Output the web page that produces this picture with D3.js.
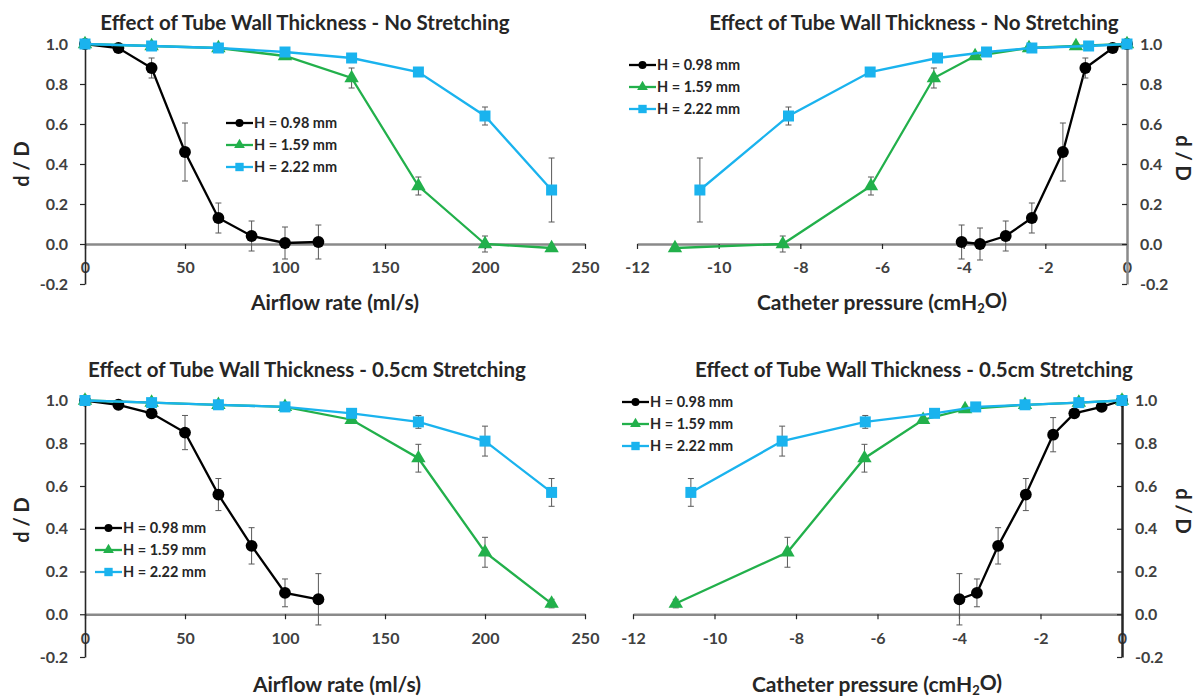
<!DOCTYPE html>
<html>
<head>
<meta charset="utf-8">
<script src="https://cdn.jsdelivr.net/npm/d3@7"></script>
<style>
  body { margin: 0; background: #fff; }
  svg text { font-family: Lato, "Open Sans", sans-serif; font-weight: 700; }
</style>
</head>
<body>
<svg id="chart" width="1200" height="698"></svg>
<script>
// ---- data ----
const seriesNames = ["H = 0.98 mm", "H = 1.59 mm", "H = 2.22 mm"];
const seriesColors = ["#000000", "#22b04b", "#1ab3ee"];
const seriesShapes = [d3.symbolCircle, d3.symbolTriangle, d3.symbolSquare];

const yTicks = [-0.2, 0, 0.2, 0.4, 0.6, 0.8, 1.0];
const airflowTicks = [0, 50, 100, 150, 200, 250];
const pressureTicks = [-12, -10, -8, -6, -4, -2, 0];

// airflow rate (ml/s)
const airflowBlackX = [0, 16.7, 33.3, 50, 66.7, 83.3, 100, 116.7];
const airflowX = [0, 33.3, 66.7, 100, 133.3, 166.7, 200, 233.3];

// no stretching, vs airflow
const noStrFlowBlackY = [1.0, 0.98, 0.88, 0.46, 0.13, 0.04, 0.005, 0.01];
const noStrFlowBlackErr = [0, 0.01, 0.05, 0.145, 0.075, 0.075, 0.08, 0.085];
const noStrFlowGreenY = [1.0, 0.99, 0.98, 0.94, 0.83, 0.29, 0.0, -0.02];
const noStrFlowGreenErr = [0, 0, 0.005, 0.01, 0.05, 0.045, 0.04, 0.01];
const noStrFlowBlueY = [1.0, 0.99, 0.98, 0.96, 0.93, 0.86, 0.64, 0.27];
const noStrFlowBlueErr = [0, 0, 0, 0.01, 0.01, 0.02, 0.045, 0.16];

// no stretching, vs catheter pressure
const noStrPresBlackX = [-4.05, -3.6, -2.97, -2.33, -1.57, -1.02, -0.35, 0];
const noStrPresBlackY = [0.01, 0.0, 0.04, 0.13, 0.46, 0.88, 0.98, 1.0];
const noStrPresBlackErr = [0.085, 0.08, 0.075, 0.075, 0.145, 0.05, 0.01, 0];
const noStrPresGreenX = [-11.07, -8.43, -6.27, -4.73, -3.72, -2.4, -1.25, 0];
const noStrPresGreenY = [-0.02, 0.0, 0.29, 0.83, 0.94, 0.98, 0.99, 1.0];
const noStrPresGreenErr = [0.01, 0.04, 0.045, 0.05, 0.01, 0.005, 0, 0];
const noStrPresBlueX = [-10.46, -8.29, -6.29, -4.64, -3.44, -2.33, -0.94, 0];
const noStrPresBlueY = [0.27, 0.64, 0.86, 0.93, 0.96, 0.98, 0.99, 1.0];
const noStrPresBlueErr = [0.16, 0.045, 0.02, 0.01, 0.01, 0, 0, 0];

// 0.5cm stretching, vs airflow
const strFlowBlackY = [1.0, 0.98, 0.94, 0.85, 0.56, 0.32, 0.10, 0.07];
const strFlowBlackErr = [0, 0.01, 0.02, 0.08, 0.075, 0.085, 0.065, 0.12];
const strFlowGreenY = [1.0, 0.99, 0.98, 0.97, 0.91, 0.73, 0.29, 0.05];
const strFlowGreenErr = [0, 0, 0, 0.01, 0.01, 0.065, 0.07, 0.02];
const strFlowBlueY = [1.0, 0.99, 0.98, 0.97, 0.94, 0.90, 0.81, 0.57];
const strFlowBlueErr = [0, 0, 0, 0.01, 0.01, 0.03, 0.07, 0.065];

// 0.5cm stretching, vs catheter pressure
const strPresBlackX = [-3.99, -3.56, -3.04, -2.36, -1.69, -1.17, -0.5, 0];
const strPresBlackY = [0.07, 0.10, 0.32, 0.56, 0.84, 0.94, 0.97, 1.0];
const strPresBlackErr = [0.12, 0.065, 0.085, 0.075, 0.08, 0.02, 0.01, 0];
const strPresGreenX = [-10.95, -8.21, -6.32, -4.88, -3.85, -2.38, -1.06, 0];
const strPresGreenY = [0.05, 0.29, 0.73, 0.91, 0.96, 0.98, 0.99, 1.0];
const strPresGreenErr = [0.02, 0.07, 0.065, 0.01, 0.01, 0, 0, 0];
const strPresBlueX = [-10.58, -8.34, -6.3, -4.6, -3.59, -2.38, -1.06, 0];
const strPresBlueY = [0.57, 0.81, 0.90, 0.94, 0.97, 0.98, 0.99, 1.0];
const strPresBlueErr = [0.065, 0.07, 0.03, 0.01, 0.01, 0, 0, 0];

const zip = (xs, ys, es) => xs.map((x, i) => ({ x: x, y: ys[i], e: es[i] }));

const svg = d3.select("#chart");

function drawPanel(p) {
    const g = svg.append("g");
    const x = d3.scaleLinear().domain(p.xDomain).range(p.xRange);
    const y = d3.scaleLinear().domain([-0.2, 1.0]).range(p.yRange);

    // title
    g.append("text")
        .attr("x", p.titleX).attr("y", p.titleY)
        .attr("text-anchor", "middle")
        .style("font-size", "20.5px").style("fill", "#262626")
        .text(p.title);

    // x axis, sitting at y = 0
    const xAxis = g.append("g")
        .attr("transform", `translate(0,${y(0)})`)
        .call(d3.axisBottom(x).tickValues(p.xTicks).tickSize(5).tickSizeOuter(0)
            .tickPadding(13).tickFormat(d => String(d)));
    xAxis.select(".domain").attr("stroke", "#8a8a8a").attr("stroke-width", 2.5);
    xAxis.selectAll(".tick line").attr("stroke", "#262626").attr("stroke-width", 1.2);
    xAxis.selectAll(".tick text").style("font-size", "16px").style("fill", "#404040")
        .style("font-family", "Lato, sans-serif").style("font-weight", 700);

    // y axis
    const right = p.yAxisSide === "right";
    const yAxisGen = (right ? d3.axisRight(y).tickSize(-5).tickPadding(13)
                            : d3.axisLeft(y).tickSize(5).tickPadding(12))
        .tickValues(yTicks).tickSizeOuter(0).tickFormat(d => d.toFixed(1));
    const yAxis = g.append("g")
        .attr("transform", `translate(${right ? p.xRange[1] : p.xRange[0]},0)`)
        .call(yAxisGen);
    yAxis.select(".domain").attr("stroke", p.yAxisColor).attr("stroke-width", right ? 2.5 : 1.6);
    yAxis.selectAll(".tick line").attr("stroke", "#262626").attr("stroke-width", 1.2);
    yAxis.selectAll(".tick text").style("font-size", "16px").style("fill", "#404040")
        .style("font-family", "Lato, sans-serif").style("font-weight", 700);

    // axis titles
    const xl = g.append("text")
        .attr("x", p.xLabelX).attr("y", p.xLabelY)
        .attr("text-anchor", "middle")
        .style("font-size", "21px").style("fill", "#262626");
    xl.append("tspan").text(p.xLabel);
    if (p.xLabelSub) {
        xl.append("tspan").attr("dy", "0.25em").style("font-size", "13px").text(p.xLabelSub);
        xl.append("tspan").attr("dy", "-0.25em").text(p.xLabelEnd);
    }
    g.append("text")
        .attr("transform", `translate(${p.yLabelX},${p.yLabelY}) rotate(${right ? 90 : -90})`)
        .attr("text-anchor", "middle")
        .attr("dy", "0.35em")
        .style("font-size", "20px").style("fill", "#262626")
        .text("d / D");

    const line = d3.line().x(d => x(d.x)).y(d => y(d.y));

    p.series.forEach((s, i) => {
        const sg = g.append("g");
        sg.append("path")
            .datum(s)
            .attr("d", line)
            .attr("fill", "none")
            .attr("stroke", seriesColors[i])
            .attr("stroke-width", 2.3);

        // error bars
        const eb = sg.selectAll(".err")
            .data(s.filter(d => d.e > 0))
            .enter().append("g").attr("class", "err");
        eb.append("line")
            .attr("x1", d => x(d.x)).attr("x2", d => x(d.x))
            .attr("y1", d => y(d.y - d.e)).attr("y2", d => y(d.y + d.e));
        eb.append("line")
            .attr("x1", d => x(d.x) - 3).attr("x2", d => x(d.x) + 3)
            .attr("y1", d => y(d.y - d.e)).attr("y2", d => y(d.y - d.e));
        eb.append("line")
            .attr("x1", d => x(d.x) - 3).attr("x2", d => x(d.x) + 3)
            .attr("y1", d => y(d.y + d.e)).attr("y2", d => y(d.y + d.e));
        eb.selectAll("line").attr("stroke", "#595959").attr("stroke-width", 1);

        const sizes = [110, 90, 121];
        sg.selectAll(".mk")
            .data(s)
            .enter().append("path")
            .attr("class", "mk")
            .attr("transform", d => `translate(${x(d.x)},${y(d.y)})`)
            .attr("d", d3.symbol().type(seriesShapes[i]).size(sizes[i]))
            .attr("fill", seriesColors[i]);
    });

    // legend
    const leg = g.append("g").attr("transform", `translate(${p.legendX},${p.legendY})`);
    const legSizes = [50, 50, 70];
    seriesNames.forEach((name, i) => {
        const row = leg.append("g").attr("transform", `translate(0,${i * 22})`);
        row.append("line")
            .attr("x1", 0).attr("x2", 27).attr("y1", 0).attr("y2", 0)
            .attr("stroke", seriesColors[i]).attr("stroke-width", 2.3);
        row.append("path")
            .attr("transform", "translate(13.5,0)")
            .attr("d", d3.symbol().type(seriesShapes[i]).size(legSizes[i]))
            .attr("fill", seriesColors[i]);
        row.append("text")
            .attr("x", 28).attr("y", 0).attr("dy", "0.35em")
            .style("font-size", "14.5px").style("fill", "#262626")
            .text(name);
    });
}

drawPanel({
    title: "Effect of Tube Wall Thickness - No Stretching", titleX: 305, titleY: 30,
    xDomain: [0, 250], xRange: [85, 585], yRange: [284, 44], xTicks: airflowTicks,
    yAxisSide: "left", yAxisColor: "#262626",
    xLabel: "Airflow rate (ml/s)", xLabelX: 335, xLabelY: 310,
    yLabelX: 22, yLabelY: 164,
    legendX: 226, legendY: 123,
    series: [
        zip(airflowBlackX, noStrFlowBlackY, noStrFlowBlackErr),
        zip(airflowX, noStrFlowGreenY, noStrFlowGreenErr),
        zip(airflowX, noStrFlowBlueY, noStrFlowBlueErr)
    ]
});

drawPanel({
    title: "Effect of Tube Wall Thickness - No Stretching", titleX: 914, titleY: 30,
    xDomain: [-12, 0], xRange: [637, 1127], yRange: [284, 44], xTicks: pressureTicks,
    yAxisSide: "right", yAxisColor: "#8a8a8a",
    xLabel: "Catheter pressure (cmH", xLabelSub: "2", xLabelEnd: "O)", xLabelX: 882, xLabelY: 310,
    yLabelX: 1183, yLabelY: 158,
    legendX: 629, legendY: 65,
    series: [
        zip(noStrPresBlackX, noStrPresBlackY, noStrPresBlackErr),
        zip(noStrPresGreenX, noStrPresGreenY, noStrPresGreenErr),
        zip(noStrPresBlueX, noStrPresBlueY, noStrPresBlueErr)
    ]
});

drawPanel({
    title: "Effect of Tube Wall Thickness - 0.5cm Stretching", titleX: 307, titleY: 377,
    xDomain: [0, 250], xRange: [85, 585], yRange: [657, 400.5], xTicks: airflowTicks,
    yAxisSide: "left", yAxisColor: "#262626",
    xLabel: "Airflow rate (ml/s)", xLabelX: 337, xLabelY: 692,
    yLabelX: 22, yLabelY: 520,
    legendX: 95, legendY: 528,
    series: [
        zip(airflowBlackX, strFlowBlackY, strFlowBlackErr),
        zip(airflowX, strFlowGreenY, strFlowGreenErr),
        zip(airflowX, strFlowBlueY, strFlowBlueErr)
    ]
});

drawPanel({
    title: "Effect of Tube Wall Thickness - 0.5cm Stretching", titleX: 914, titleY: 377,
    xDomain: [-12, 0], xRange: [633, 1122], yRange: [657, 400.5], xTicks: pressureTicks,
    yAxisSide: "right", yAxisColor: "#262626",
    xLabel: "Catheter pressure (cmH", xLabelSub: "2", xLabelEnd: "O)", xLabelX: 877, xLabelY: 692,
    yLabelX: 1183, yLabelY: 511,
    legendX: 622, legendY: 402,
    series: [
        zip(strPresBlackX, strPresBlackY, strPresBlackErr),
        zip(strPresGreenX, strPresGreenY, strPresGreenErr),
        zip(strPresBlueX, strPresBlueY, strPresBlueErr)
    ]
});
</script>
</body>
</html>
